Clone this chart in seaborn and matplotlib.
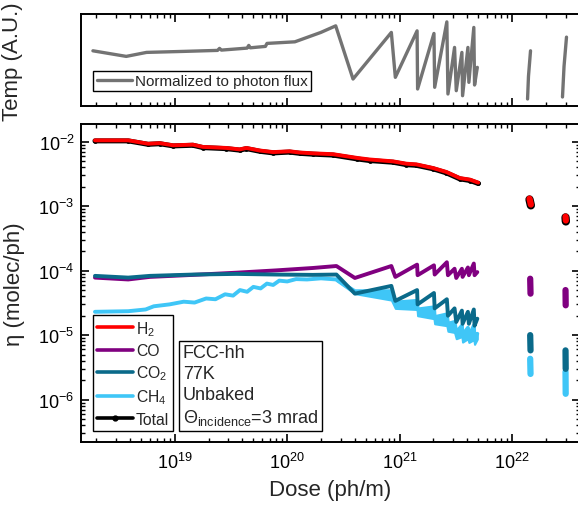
import numpy as np
import pandas as pd
import matplotlib
matplotlib.use("Agg")
import matplotlib.pyplot as plt
import seaborn as sns
from matplotlib.lines import Line2D
from matplotlib.ticker import LogLocator, NullFormatter, NullLocator

# ---- data (dose in ph/m) ----
# top panel: temperature, arbitrary units
temp_dose = [1.87e18, 3.70e18, 5.61e18, 1.20e19, 2.40e19, 2.50e19, 2.60e19, 4.40e19, 4.55e19, 4.70e19,
             6.40e19, 6.61e19, 1.17e20, 1.99e20, 2.70e20, 3.85e20, 8.44e20, 9.16e20, 1.43e21, 1.445e21,
             2.02e21, 2.05e21, 2.63e21, 2.69e21, 3.08e21, 3.19e21, 3.58e21, 3.63e21,
             4.05e21, 4.13e21, 4.57e21, 4.64e21, 4.91e21]
temp_val = [55.6, 50.0, 54.0, 55.0, 56.0, 58.0, 56.3, 58.3, 61.0, 58.6,
            60.0, 63.0, 64.6, 74.0, 80.6, 27.3, 74.0, 29.0, 75.6, 17.3,
            73.0, 19.0, 84.6, 12.3, 59.0, 15.6, 54.0, 10.6,
            59.0, 24.0, 79.0, 21.3, 39.0]
temp_c1_dose = [1.374e22, 1.40e22, 1.46e22]
temp_c1_val = [7.3, 30.0, 55.6]
temp_c2_dose = [2.81e22, 2.90e22, 3.05e22]
temp_c2_val = [9.3, 40.0, 69.3]

# bottom panel: desorption yield (molec/ph)
h2_dose = [1.95e18, 3.85e18, 5.79e18, 7.36e18, 9.66e18, 1.45e19, 1.78e19, 2.88e19, 3.78e19,
           4.34e19, 5.70e19, 7.50e19, 1.05e20, 1.29e20, 1.70e20, 2.56e20, 4.20e20, 5.40e20,
           8.75e20, 1.15e21, 1.41e21, 1.98e21, 2.61e21, 3.43e21, 4.23e21, 5.00e21]
h2_eta = [1.05e-2, 1.05e-2, 9.3e-3, 9.5e-3, 8.8e-3, 9.0e-3, 8.3e-3, 8.0e-3, 7.6e-3,
          8.0e-3, 7.3e-3, 6.9e-3, 7.1e-3, 6.8e-3, 6.6e-3, 6.4e-3, 5.6e-3, 5.3e-3,
          4.95e-3, 4.56e-3, 4.45e-3, 3.91e-3, 3.39e-3, 2.73e-3, 2.58e-3, 2.32e-3]
total_eta = [1.03e-2, 1.03e-2, 9.1e-3, 9.3e-3, 8.6e-3, 8.8e-3, 8.1e-3, 7.8e-3, 7.4e-3,
             7.8e-3, 7.1e-3, 6.7e-3, 6.9e-3, 6.6e-3, 6.4e-3, 6.2e-3, 5.4e-3, 5.1e-3,
             4.8e-3, 4.4e-3, 4.3e-3, 3.8e-3, 3.28e-3, 2.65e-3, 2.5e-3, 2.25e-3]
h2_c1_dose, h2_c1_eta = [1.43e22, 1.47e22], [1.31e-3, 1.06e-3]
h2_c2_dose, h2_c2_eta = [2.99e22, 3.01e22], [6.9e-4, 6.0e-4]
total_c1_eta = [1.27e-3, 1.03e-3]
total_c2_eta = [6.7e-4, 5.8e-4]

saw_dose = [1.95e18, 3.85e18, 6.0e18, 1.46e19, 3.54e19, 8.0e19, 1.69e20, 2.74e20, 4.0e20,
            8.44e20, 9.16e20, 1.43e21, 1.445e21, 2.02e21, 2.05e21, 2.63e21, 2.69e21,
            3.08e21, 3.19e21, 3.58e21, 3.63e21, 4.05e21, 4.13e21, 4.57e21, 4.64e21, 4.91e21]
co_eta = [7.8e-5, 7.3e-5, 8.0e-5, 8.6e-5, 9.3e-5, 1.01e-4, 1.10e-4, 1.18e-4, 7.7e-5,
          1.18e-4, 8.0e-5, 1.24e-4, 8.5e-5, 1.21e-4, 8.7e-5, 1.35e-4, 8.5e-5,
          1.07e-4, 7.7e-5, 1.07e-4, 8.0e-5, 1.12e-4, 8.5e-5, 1.29e-4, 8.5e-5, 9.5e-5]
co2_eta = [8.3e-5, 7.8e-5, 8.3e-5, 8.7e-5, 8.9e-5, 8.7e-5, 8.6e-5, 8.7e-5, 4.4e-5,
           5.8e-5, 3.4e-5, 5.0e-5, 3.0e-5, 4.5e-5, 2.6e-5, 3.6e-5, 2.0e-5,
           2.6e-5, 1.6e-5, 2.4e-5, 1.5e-5, 2.3e-5, 1.5e-5, 2.5e-5, 1.4e-5, 1.8e-5]

# CH4: noisy rise, then a scattered band (upper / lower edge) in the sawtooth part
ch4_dose = [1.95e18, 3.85e18, 5.5e18, 6.5e18, 9.0e18, 1.2e19, 1.5e19, 1.9e19, 2.3e19, 2.8e19,
            3.3e19, 3.8e19, 4.4e19, 5.0e19, 5.8e19, 6.6e19, 7.5e19, 8.5e19, 1.0e20, 1.2e20,
            1.5e20, 2.0e20, 2.74e20]
ch4_eta = [2.3e-5, 2.35e-5, 2.5e-5, 2.8e-5, 3.0e-5, 3.3e-5, 3.2e-5, 3.7e-5, 3.6e-5, 4.3e-5,
           4.1e-5, 5.0e-5, 4.7e-5, 5.6e-5, 5.3e-5, 6.3e-5, 6.0e-5, 7.0e-5, 6.8e-5, 7.4e-5,
           7.3e-5, 7.6e-5, 7.3e-5]
band_dose = [2.74e20, 4.0e20, 8.44e20, 9.16e20, 1.43e21, 1.445e21, 2.02e21, 2.05e21, 2.63e21,
             2.69e21, 3.08e21, 3.19e21, 3.58e21, 3.63e21, 4.05e21, 4.13e21, 4.57e21, 4.64e21, 4.91e21]
band_hi = [7.3e-5, 4.8e-5, 4.8e-5, 3.2e-5, 3.4e-5, 2.5e-5, 2.7e-5, 1.9e-5, 2.1e-5,
           1.5e-5, 1.6e-5, 1.1e-5, 1.4e-5, 1.0e-5, 1.3e-5, 9.5e-6, 1.4e-5, 9.0e-6, 1.05e-5]
band_lo = [7.0e-5, 4.4e-5, 3.5e-5, 2.6e-5, 2.5e-5, 2.0e-5, 1.8e-5, 1.5e-5, 1.4e-5,
           1.15e-5, 1.1e-5, 8.8e-6, 9.5e-6, 7.8e-6, 8.8e-6, 7.7e-6, 8.5e-6, 7.2e-6, 8.7e-6]

co_c1_eta, co_c2_eta = [7.5e-5, 4.4e-5], [5.0e-5, 2.9e-5]
co2_c1_eta, co2_c2_eta = [1.0e-5, 5.8e-6], [5.8e-6, 3.0e-6]
ch4_c1_eta, ch4_c2_eta = [4.3e-6, 2.5e-6], [2.7e-6, 1.23e-6]
c1_dose, c2_dose = [1.45e22, 1.46e22], [2.99e22, 3.0e22]

gases = ['H$_2$', 'CO', 'CO$_2$', 'CH$_4$', 'Total']
colors = {'H$_2$': '#ff0000', 'CO': '#800080', 'CO$_2$': '#0a6a8a',
          'CH$_4$': '#3fc6f7', 'Total': '#000000'}
hue_order = ['CH$_4$', 'CO', 'CO$_2$', 'H$_2$']

# long-form tables, one "part" per continuous stretch
lines = [
    ('H$_2$', h2_dose, h2_eta), ('CO', saw_dose, co_eta), ('CO$_2$', saw_dose, co2_eta),
    ('CH$_4$', ch4_dose, ch4_eta), ('CH$_4$', band_dose, band_hi),
]
blobs = [
    ('H$_2$', h2_c1_dose, h2_c1_eta), ('H$_2$', h2_c2_dose, h2_c2_eta),
    ('CO', c1_dose, co_c1_eta), ('CO', c2_dose, co_c2_eta),
    ('CO$_2$', c1_dose, co2_c1_eta), ('CO$_2$', c2_dose, co2_c2_eta),
    ('CH$_4$', c1_dose, ch4_c1_eta), ('CH$_4$', c2_dose, ch4_c2_eta),
]


def long_form(parts):
    return pd.concat([pd.DataFrame({'dose': d, 'eta': v, 'gas': g, 'part': f'{g}-{k}'})
                      for k, (g, d, v) in enumerate(parts)], ignore_index=True)


df_lines = long_form(lines)
df_blobs = long_form(blobs)
tot = long_form([('Total', h2_dose, total_eta)])
tot_blobs = long_form([('Total', h2_c1_dose, total_c1_eta), ('Total', h2_c2_dose, total_c2_eta)])
tmp = pd.concat([pd.DataFrame({'dose': d, 'temp': v, 'part': k}) for k, (d, v) in
                 enumerate([(temp_dose, temp_val), (temp_c1_dose, temp_c1_val), (temp_c2_dose, temp_c2_val)])],
                ignore_index=True)

sns.set_theme(style="ticks")
plt.rcParams['font.family'] = ['Liberation Sans', 'DejaVu Sans']
plt.rcParams['mathtext.fontset'] = 'custom'
plt.rcParams['mathtext.rm'] = 'Liberation Sans'
plt.rcParams['mathtext.it'] = 'Liberation Sans:italic'
plt.rcParams['mathtext.default'] = 'regular'
plt.rcParams['axes.unicode_minus'] = False
plt.rcParams['axes.edgecolor'] = 'black'
plt.rcParams['xtick.color'] = 'black'
plt.rcParams['ytick.color'] = 'black'

fig = plt.figure(figsize=(5.78, 5.06), dpi=100)
ax_t = fig.add_axes([0.141, 0.788, 0.862, 0.182])
ax = fig.add_axes([0.141, 0.1245, 0.862, 0.629])

xlim = (1.48e18, 4.0e22)

# ---- top panel ----
sns.lineplot(data=tmp, x='dose', y='temp', units='part', estimator=None, sort=False,
             color='#737373', lw=2.4, ax=ax_t, legend=False)
ax_t.set_xscale('log')
ax_t.set_xlim(xlim)
ax_t.set_ylim(0, 92.3)
ax_t.set_xlabel('')
ax_t.set_ylabel('Temp (A.U.)', fontsize=16)
ax_t.yaxis.set_label_coords(-0.118, 0.5)
ax_t.yaxis.set_major_locator(NullLocator())
ax_t.tick_params(which='both', direction='in', top=True, bottom=True, labelbottom=False)
ax_t.tick_params(which='major', length=6, width=1.2)
ax_t.tick_params(which='minor', length=3, width=1)
ax_t.legend([Line2D([], [], color='#737373', lw=2.4)], ['Normalized to photon flux'],
            loc='lower left', bbox_to_anchor=(0.024, 0.165), borderaxespad=0, fontsize=11,
            fancybox=False, edgecolor='black', framealpha=1, handlelength=2.3,
            handletextpad=0.2, borderpad=0.2)

# ---- bottom panel ----
ax.fill_between(band_dose, band_lo, band_hi, color=colors['CH$_4$'], lw=1.5,
                edgecolor=colors['CH$_4$'], zorder=1.5)
sns.lineplot(data=tot, x='dose', y='eta', units='part', estimator=None, sort=False,
             color='black', lw=3.6, marker='o', markersize=3.5, markeredgewidth=0,
             ax=ax, legend=False)
sns.lineplot(data=tot_blobs, x='dose', y='eta', units='part', estimator=None, sort=False,
             color='black', lw=6, solid_capstyle='round', ax=ax, legend=False)
sns.lineplot(data=df_lines, x='dose', y='eta', hue='gas', units='part', estimator=None, sort=False,
             hue_order=hue_order, palette=colors, lw=2.8, ax=ax, legend=False)
sns.lineplot(data=df_blobs, x='dose', y='eta', hue='gas', units='part', estimator=None, sort=False,
             hue_order=hue_order, palette=colors, lw=4.5, solid_capstyle='round',
             ax=ax, legend=False)
ax.set_xscale('log')
ax.set_yscale('log')
ax.set_xlim(xlim)
ax.set_ylim(2.2e-7, 1.9e-2)
ax.set_xlabel('Dose (ph/m)', fontsize=16, labelpad=5)
ax.set_ylabel('η (molec/ph)', fontsize=16)
ax.yaxis.set_label_coords(-0.113, 0.5)
for a in (ax.xaxis, ax.yaxis, ax_t.xaxis):
    a.set_major_locator(LogLocator(base=10, numticks=30))
    a.set_minor_locator(LogLocator(base=10, subs=np.arange(2, 10), numticks=30))
    a.set_minor_formatter(NullFormatter())
ax.tick_params(which='both', direction='in', top=True, right=True)
ax.tick_params(which='major', length=6, width=1.2, labelsize=13, pad=5)
ax.tick_params(axis='x', which='major', pad=7)
ax.tick_params(which='minor', length=3, width=1)
for a in (ax, ax_t):
    for s in a.spines.values():
        s.set_linewidth(1.4)

handles = [Line2D([], [], color=colors[g], lw=2.6) for g in gases[:-1]]
handles.append(Line2D([], [], color='black', lw=2.6, marker='o', markersize=3.5))
leg = ax.legend(handles, gases, loc='lower left', bbox_to_anchor=(0.023, 0.035),
                borderaxespad=0, fontsize=11.3, fancybox=False, edgecolor='black',
                framealpha=1, handlelength=2.3, handletextpad=0.2, labelspacing=0.35,
                borderpad=0.25)
leg.set_zorder(5)

ax.text(0.203, 0.046, 'FCC-hh\n77K\nUnbaked\nΘ$_{incidence}$=3 mrad',
        transform=ax.transAxes, fontsize=13, ha='left', va='bottom', linespacing=1.3,
        bbox=dict(boxstyle='square,pad=0.2', fc='white', ec='black', lw=1), zorder=5)

fig.savefig('out.png', dpi=100)
